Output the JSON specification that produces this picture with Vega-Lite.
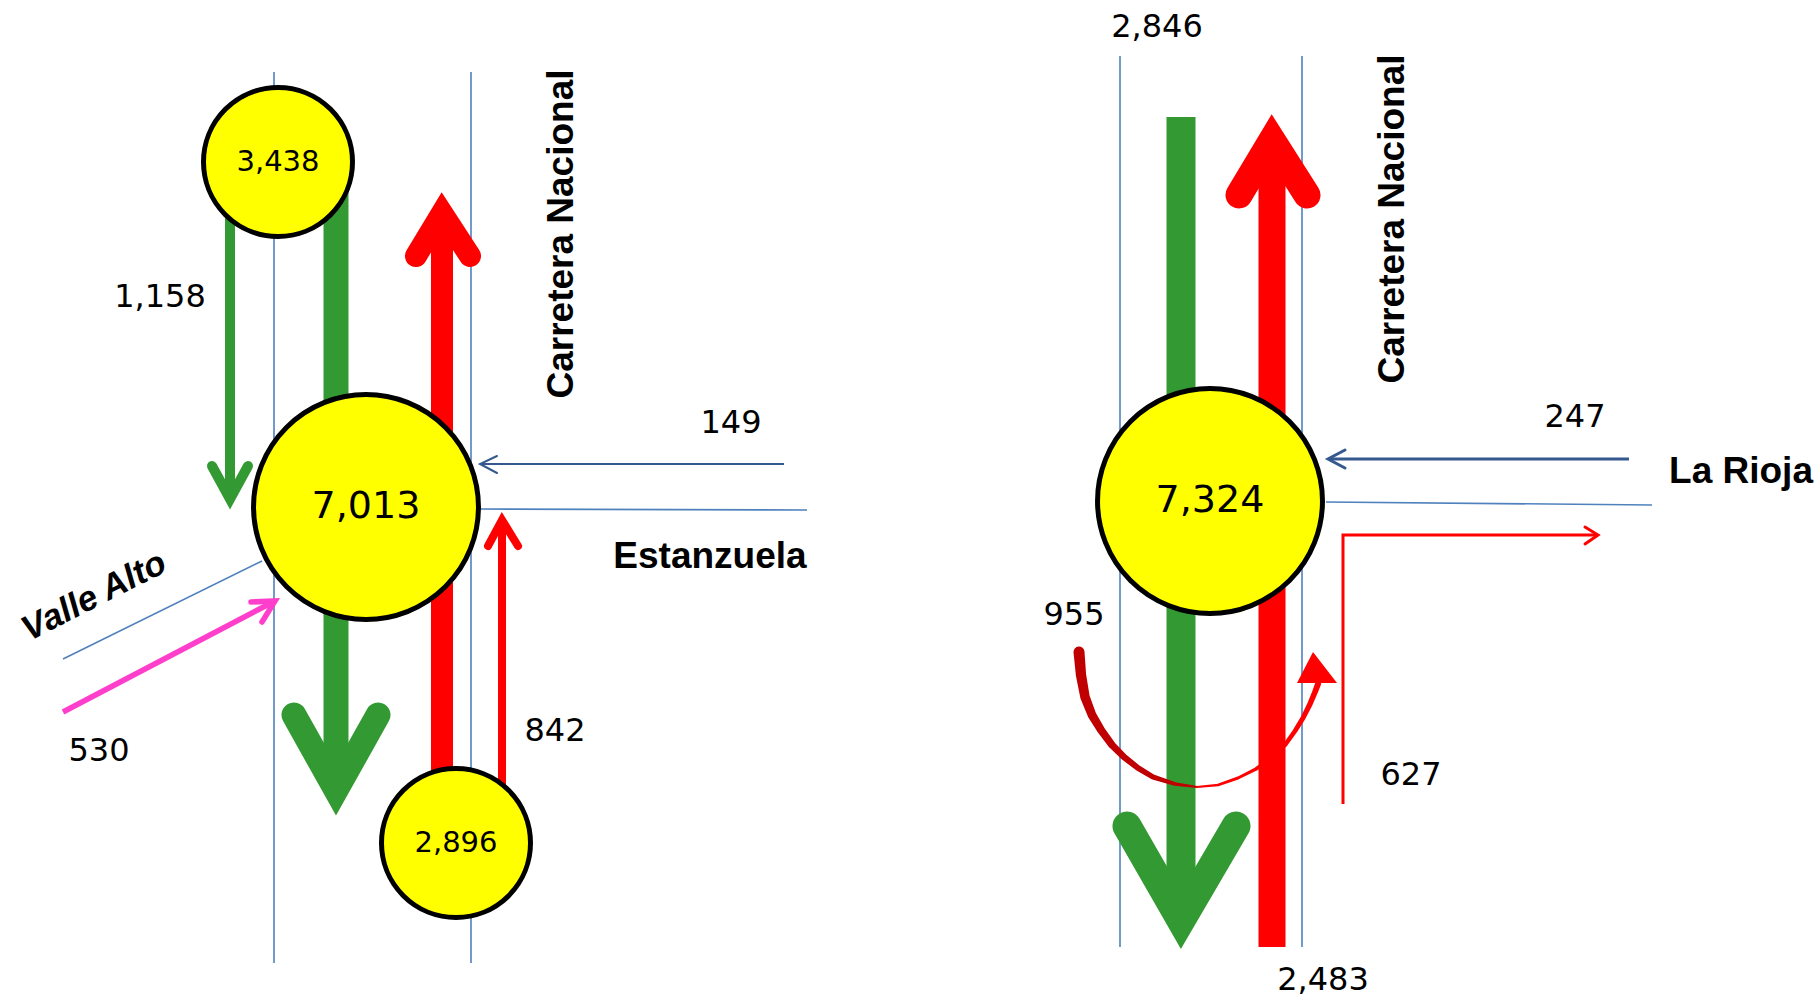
{
  "$schema": "https://vega.github.io/schema/vega-lite/v6.json",
  "width": 1818,
  "height": 997,
  "autosize": {"type": "none"},
  "padding": 0,
  "background": "white",
  "config": {"view": {"stroke": null}},
  "datasets": {
    "vias": [
      {"id": "izq-oeste", "o": 0, "x": 274, "y": 72}, {"id": "izq-oeste", "o": 1, "x": 274, "y": 963},
      {"id": "izq-este", "o": 0, "x": 471, "y": 72}, {"id": "izq-este", "o": 1, "x": 471, "y": 963},
      {"id": "estanzuela", "o": 0, "x": 480, "y": 509}, {"id": "estanzuela", "o": 1, "x": 807, "y": 510},
      {"id": "valle", "o": 0, "x": 63, "y": 659}, {"id": "valle", "o": 1, "x": 262, "y": 561},
      {"id": "der-oeste", "o": 0, "x": 1120, "y": 56}, {"id": "der-oeste", "o": 1, "x": 1120, "y": 947},
      {"id": "der-este", "o": 0, "x": 1302, "y": 56}, {"id": "der-este", "o": 1, "x": 1302, "y": 947},
      {"id": "rioja", "o": 0, "x": 1326, "y": 502}, {"id": "rioja", "o": 1, "x": 1652, "y": 505}
    ],
    "trazos": [
      {"id": "g1158", "kind": "shaft", "flow": "norte-sur", "vol": 1158, "o": 0, "x": 230, "y": 205},
      {"id": "g1158", "kind": "shaft", "flow": "norte-sur", "vol": 1158, "o": 1, "x": 230, "y": 499},
      {"id": "g1158h", "kind": "head", "flow": "norte-sur", "vol": 1158, "o": 0, "x": 212, "y": 466},
      {"id": "g1158h", "kind": "head", "flow": "norte-sur", "vol": 1158, "o": 1, "x": 230, "y": 499},
      {"id": "g1158h", "kind": "head", "flow": "norte-sur", "vol": 1158, "o": 2, "x": 248, "y": 466},
      {"id": "gN", "kind": "shaft", "flow": "norte-sur", "vol": 2280, "o": 0, "x": 336, "y": 170},
      {"id": "gN", "kind": "shaft", "flow": "norte-sur", "vol": 2280, "o": 1, "x": 336, "y": 420},
      {"id": "gS", "kind": "shaft", "flow": "norte-sur", "vol": 2280, "o": 0, "x": 336, "y": 600},
      {"id": "gS", "kind": "shaft", "flow": "norte-sur", "vol": 2280, "o": 1, "x": 336, "y": 790},
      {"id": "gSh", "kind": "head", "flow": "norte-sur", "vol": 2280, "o": 0, "x": 294, "y": 715},
      {"id": "gSh", "kind": "head", "flow": "norte-sur", "vol": 2280, "o": 1, "x": 336, "y": 790},
      {"id": "gSh", "kind": "head", "flow": "norte-sur", "vol": 2280, "o": 2, "x": 378, "y": 715},
      {"id": "rN", "kind": "shaft", "flow": "sur-norte", "vol": 2054, "o": 0, "x": 442, "y": 800},
      {"id": "rN", "kind": "shaft", "flow": "sur-norte", "vol": 2054, "o": 1, "x": 442, "y": 213},
      {"id": "rNh", "kind": "head", "flow": "sur-norte", "vol": 2054, "o": 0, "x": 416, "y": 256},
      {"id": "rNh", "kind": "head", "flow": "sur-norte", "vol": 2054, "o": 1, "x": 442, "y": 213},
      {"id": "rNh", "kind": "head", "flow": "sur-norte", "vol": 2054, "o": 2, "x": 470, "y": 256},
      {"id": "r842", "kind": "shaft", "flow": "sur-norte", "vol": 842, "o": 0, "x": 502, "y": 790},
      {"id": "r842", "kind": "shaft", "flow": "sur-norte", "vol": 842, "o": 1, "x": 502, "y": 520},
      {"id": "r842h", "kind": "head", "flow": "sur-norte", "vol": 842, "o": 0, "x": 488, "y": 546},
      {"id": "r842h", "kind": "head", "flow": "sur-norte", "vol": 842, "o": 1, "x": 502, "y": 520},
      {"id": "r842h", "kind": "head", "flow": "sur-norte", "vol": 842, "o": 2, "x": 518, "y": 546},
      {"id": "a149", "kind": "shaft", "flow": "acceso", "vol": 149, "o": 0, "x": 784, "y": 464},
      {"id": "a149", "kind": "shaft", "flow": "acceso", "vol": 149, "o": 1, "x": 481, "y": 464},
      {"id": "a149h", "kind": "head", "flow": "acceso", "vol": 149, "o": 0, "x": 497, "y": 456},
      {"id": "a149h", "kind": "head", "flow": "acceso", "vol": 149, "o": 1, "x": 480, "y": 464},
      {"id": "a149h", "kind": "head", "flow": "acceso", "vol": 149, "o": 2, "x": 497, "y": 473},
      {"id": "v530", "kind": "shaft", "flow": "valle", "vol": 530, "o": 0, "x": 63, "y": 712},
      {"id": "v530", "kind": "shaft", "flow": "valle", "vol": 530, "o": 1, "x": 273, "y": 602},
      {"id": "v530h", "kind": "head", "flow": "valle", "vol": 530, "o": 0, "x": 251, "y": 602},
      {"id": "v530h", "kind": "head", "flow": "valle", "vol": 530, "o": 1, "x": 275, "y": 601},
      {"id": "v530h", "kind": "head", "flow": "valle", "vol": 530, "o": 2, "x": 262, "y": 622},
      {"id": "gR", "kind": "shaft", "flow": "norte-sur", "vol": 2846, "o": 0, "x": 1181, "y": 117},
      {"id": "gR", "kind": "shaft", "flow": "norte-sur", "vol": 2846, "o": 1, "x": 1181, "y": 920},
      {"id": "gRh", "kind": "head", "flow": "norte-sur", "vol": 2846, "o": 0, "x": 1127, "y": 826},
      {"id": "gRh", "kind": "head", "flow": "norte-sur", "vol": 2846, "o": 1, "x": 1181, "y": 920},
      {"id": "gRh", "kind": "head", "flow": "norte-sur", "vol": 2846, "o": 2, "x": 1236, "y": 826},
      {"id": "rR", "kind": "shaft", "flow": "sur-norte", "vol": 2483, "o": 0, "x": 1272, "y": 947},
      {"id": "rR", "kind": "shaft", "flow": "sur-norte", "vol": 2483, "o": 1, "x": 1272, "y": 140},
      {"id": "rRh", "kind": "head", "flow": "sur-norte", "vol": 2483, "o": 0, "x": 1239, "y": 195},
      {"id": "rRh", "kind": "head", "flow": "sur-norte", "vol": 2483, "o": 1, "x": 1272, "y": 140},
      {"id": "rRh", "kind": "head", "flow": "sur-norte", "vol": 2483, "o": 2, "x": 1307, "y": 195},
      {"id": "a247", "kind": "shaft", "flow": "acceso", "vol": 247, "o": 0, "x": 1629, "y": 459},
      {"id": "a247", "kind": "shaft", "flow": "acceso", "vol": 247, "o": 1, "x": 1329, "y": 459},
      {"id": "a247h", "kind": "head", "flow": "acceso", "vol": 247, "o": 0, "x": 1345, "y": 450},
      {"id": "a247h", "kind": "head", "flow": "acceso", "vol": 247, "o": 1, "x": 1328, "y": 459},
      {"id": "a247h", "kind": "head", "flow": "acceso", "vol": 247, "o": 2, "x": 1345, "y": 468},
      {"id": "s627", "kind": "shaft", "flow": "salida", "vol": 627, "o": 0, "x": 1343, "y": 804},
      {"id": "s627", "kind": "shaft", "flow": "salida", "vol": 627, "o": 1, "x": 1343, "y": 535},
      {"id": "s627", "kind": "shaft", "flow": "salida", "vol": 627, "o": 2, "x": 1597, "y": 535},
      {"id": "s627h", "kind": "head", "flow": "salida", "vol": 627, "o": 0, "x": 1585, "y": 527},
      {"id": "s627h", "kind": "head", "flow": "salida", "vol": 627, "o": 1, "x": 1598, "y": 535},
      {"id": "s627h", "kind": "head", "flow": "salida", "vol": 627, "o": 2, "x": 1585, "y": 544}
    ],
    "nodos": [
      {"valor": 3438, "tipo": "acceso", "x": 278, "y": 162},
      {"valor": 7013, "tipo": "cruce", "x": 366, "y": 507},
      {"valor": 2896, "tipo": "acceso", "x": 456, "y": 843},
      {"valor": 7324, "tipo": "cruce", "x": 1210, "y": 501}
    ],
    "retorno": [
      {"id": "ret-a", "flow": "retorno-a", "o": 0, "x": 1079, "y": 652},
      {"id": "ret-a", "flow": "retorno-a", "o": 1, "x": 1081, "y": 675},
      {"id": "ret-a", "flow": "retorno-a", "o": 2, "x": 1085, "y": 697},
      {"id": "ret-a", "flow": "retorno-a", "o": 3, "x": 1092, "y": 715},
      {"id": "ret-a", "flow": "retorno-a", "o": 4, "x": 1101, "y": 730},
      {"id": "ret-a", "flow": "retorno-a", "o": 5, "x": 1112, "y": 745},
      {"id": "ret-a", "flow": "retorno-a", "o": 6, "x": 1124, "y": 757},
      {"id": "ret-a", "flow": "retorno-a", "o": 7, "x": 1138, "y": 768},
      {"id": "ret-a", "flow": "retorno-a", "o": 8, "x": 1153, "y": 777},
      {"id": "ret-a", "flow": "retorno-a", "o": 9, "x": 1175, "y": 784},
      {"id": "ret-a", "flow": "retorno-a", "o": 10, "x": 1197, "y": 787},
      {"id": "ret-b", "flow": "retorno-b", "o": 10, "x": 1197, "y": 787},
      {"id": "ret-b", "flow": "retorno-b", "o": 11, "x": 1218, "y": 785},
      {"id": "ret-b", "flow": "retorno-b", "o": 12, "x": 1238, "y": 778},
      {"id": "ret-b", "flow": "retorno-b", "o": 13, "x": 1256, "y": 769},
      {"id": "ret-b", "flow": "retorno-b", "o": 14, "x": 1272, "y": 757},
      {"id": "ret-b", "flow": "retorno-b", "o": 15, "x": 1285, "y": 745},
      {"id": "ret-b", "flow": "retorno-b", "o": 16, "x": 1295, "y": 731},
      {"id": "ret-b", "flow": "retorno-b", "o": 17, "x": 1303, "y": 718},
      {"id": "ret-b", "flow": "retorno-b", "o": 18, "x": 1310, "y": 704},
      {"id": "ret-b", "flow": "retorno-b", "o": 19, "x": 1315, "y": 692},
      {"id": "ret-b", "flow": "retorno-b", "o": 20, "x": 1318, "y": 684}
    ],
    "puntas": [
      {"flow": "retorno-b", "x": 1317, "y": 663}
    ],
    "cifras": [
      {"valor": 1158, "x": 160, "y": 297},
      {"valor": 149, "x": 731, "y": 423},
      {"valor": 842, "x": 555, "y": 731},
      {"valor": 530, "x": 99, "y": 751},
      {"valor": 2846, "x": 1157, "y": 27},
      {"valor": 247, "x": 1575, "y": 417},
      {"valor": 955, "x": 1074, "y": 615},
      {"valor": 627, "x": 1411, "y": 775},
      {"valor": 2483, "x": 1323, "y": 980}
    ],
    "rotulos": [
      {"texto": "Estanzuela", "estilo": "horizontal", "x": 710, "y": 557},
      {"texto": "La Rioja", "estilo": "horizontal", "x": 1741, "y": 472},
      {"texto": "Carretera Nacional", "estilo": "vertical", "x": 562, "y": 234},
      {"texto": "Carretera Nacional", "estilo": "vertical", "x": 1393, "y": 219},
      {"texto": "Valle Alto", "estilo": "diagonal", "x": 94, "y": 596}
    ]
  },
  "encoding": {
    "x": {"field": "x", "type": "quantitative", "scale": {"domain": [0, 1818], "nice": false, "zero": false}, "axis": null},
    "y": {"field": "y", "type": "quantitative", "scale": {"domain": [0, 997], "reverse": true, "nice": false, "zero": false}, "axis": null}
  },
  "resolve": {"scale": {"size": "independent"}},
  "layer": [
    {
      "data": {"name": "vias"},
      "mark": {"type": "line", "stroke": "#4F81BD", "strokeWidth": 1.6, "strokeCap": "butt"},
      "encoding": {"detail": {"field": "id"}, "order": {"field": "o"}}
    },
    {
      "data": {"name": "trazos"},
      "transform": [{"filter": "datum.kind === 'shaft'"}],
      "mark": {"type": "line", "strokeCap": "butt", "strokeJoin": "miter"},
      "encoding": {
        "detail": {"field": "id"},
        "order": {"field": "o"},
        "color": {"field": "flow", "type": "nominal", "legend": null,
          "scale": {"domain": ["norte-sur", "sur-norte", "acceso", "valle", "salida", "retorno-a", "retorno-b"],
                    "range": ["#339933", "#FF0000", "#35598F", "#FF3FCB", "#FF0000", "#C00000", "#FF0000"]}},
        "strokeWidth": {"field": "vol", "type": "quantitative", "legend": null,
          "scale": {"domain": [149, 247, 530, 627, 842, 1158, 2054, 2280, 2483, 2846], "range": [2, 3, 5.5, 3, 8, 10, 22, 25, 27, 29]}}
      }
    },
    {
      "data": {"name": "trazos"},
      "transform": [{"filter": "datum.kind === 'head'"}],
      "mark": {"type": "line", "strokeCap": "round", "strokeJoin": "miter", "strokeMiterLimit": 10},
      "encoding": {
        "detail": {"field": "id"},
        "order": {"field": "o"},
        "color": {"field": "flow", "type": "nominal", "legend": null},
        "strokeWidth": {"field": "vol", "type": "quantitative", "legend": null}
      }
    },
    {
      "data": {"name": "nodos"},
      "mark": {"type": "point", "shape": "circle", "filled": true, "fill": "#FFFF00", "stroke": "#000000", "strokeWidth": 5, "opacity": 1, "fillOpacity": 1, "strokeOpacity": 1},
      "encoding": {
        "size": {"field": "tipo", "type": "ordinal", "legend": null, "scale": {"domain": ["acceso", "cruce"], "range": [22200, 50600]}}
      }
    },
    {
      "data": {"name": "retorno"},
      "mark": {"type": "trail"},
      "encoding": {
        "detail": {"field": "id"},
        "order": {"field": "o"},
        "color": {"field": "flow", "type": "nominal", "legend": null},
        "size": {"field": "o", "type": "quantitative", "legend": null, "scale": {"domain": [0, 4, 8, 10, 14, 20], "range": [11, 8, 5, 2, 4, 6]}}
      }
    },
    {
      "data": {"name": "puntas"},
      "mark": {"type": "point", "shape": "M-1,1L-0.2,-0.55L1,1Z", "filled": true, "size": 1600, "opacity": 1, "strokeWidth": 0},
      "encoding": {"color": {"field": "flow", "type": "nominal", "legend": null}}
    },
    {
      "data": {"name": "nodos"},
      "transform": [{"filter": "datum.tipo === 'acceso'"}],
      "mark": {"type": "text", "font": "DejaVu Sans", "fontSize": 29, "align": "center", "baseline": "middle", "color": "#000000"},
      "encoding": {"text": {"field": "valor", "type": "quantitative", "format": ","}}
    },
    {
      "data": {"name": "nodos"},
      "transform": [{"filter": "datum.tipo === 'cruce'"}],
      "mark": {"type": "text", "font": "DejaVu Sans", "fontSize": 38, "align": "center", "baseline": "middle", "color": "#000000"},
      "encoding": {"text": {"field": "valor", "type": "quantitative", "format": ","}}
    },
    {
      "data": {"name": "cifras"},
      "mark": {"type": "text", "font": "DejaVu Sans", "fontSize": 32, "align": "center", "baseline": "middle", "color": "#000000"},
      "encoding": {"text": {"field": "valor", "type": "quantitative", "format": ","}}
    },
    {
      "data": {"name": "rotulos"},
      "transform": [{"filter": "datum.estilo === 'horizontal'"}],
      "mark": {"type": "text", "font": "Liberation Sans", "fontWeight": "bold", "fontSize": 37, "align": "center", "baseline": "middle", "color": "#000000"},
      "encoding": {"text": {"field": "texto", "type": "nominal"}}
    },
    {
      "data": {"name": "rotulos"},
      "transform": [{"filter": "datum.estilo === 'vertical'"}],
      "mark": {"type": "text", "font": "Liberation Sans", "fontWeight": "bold", "fontSize": 37, "angle": 270, "align": "center", "baseline": "middle", "color": "#000000"},
      "encoding": {"text": {"field": "texto", "type": "nominal"}}
    },
    {
      "data": {"name": "rotulos"},
      "transform": [{"filter": "datum.estilo === 'diagonal'"}],
      "mark": {"type": "text", "font": "Liberation Sans", "fontWeight": "bold", "fontStyle": "italic", "fontSize": 35, "angle": 333, "align": "center", "baseline": "middle", "color": "#000000"},
      "encoding": {"text": {"field": "texto", "type": "nominal"}}
    }
  ]
}
